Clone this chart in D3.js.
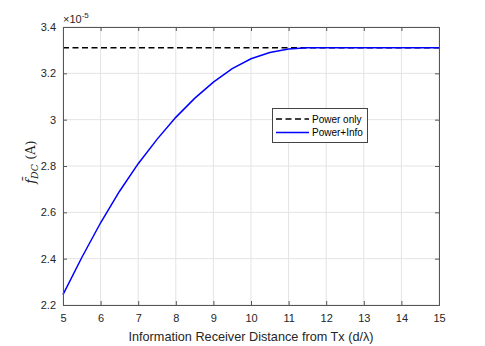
<!DOCTYPE html>
<html>
<head>
<meta charset="utf-8">
<script src="https://cdn.jsdelivr.net/npm/d3@7"></script>
<style>
  body { margin: 0; background: #fff; }
  .tick text { font-family: "Liberation Sans", Arial, sans-serif; font-size: 11px; fill: #262626; }
</style>
</head>
<body>
<div id="chart" style="width:485px;height:346px;"></div>
<script>
// distances (d/lambda)
const distance = [5, 5.5, 6, 6.5, 7, 7.5, 8, 8.5, 9, 9.5, 10, 10.5, 11, 11.5, 12, 12.5, 13, 13.5, 14, 14.5, 15];
// mean DC current x 1e-5 A
const powerInfo = [2.245, 2.405, 2.555, 2.69, 2.81, 2.915, 3.01, 3.092, 3.162, 3.22, 3.263, 3.29, 3.305, 3.31, 3.31, 3.31, 3.31, 3.31, 3.31, 3.31, 3.31];
const powerOnly = 3.31;
const xTicks = [5, 6, 7, 8, 9, 10, 11, 12, 13, 14, 15];
const yTicks = [2.2, 2.4, 2.6, 2.8, 3, 3.2, 3.4];

const width = 485, height = 346;
const margin = {top: 27, left: 63, right: 46, bottom: 41};

const svg = d3.select("#chart").append("svg")
    .attr("width", width)
    .attr("height", height);

const xScale = d3.scaleLinear().domain([5, 15]).range([margin.left, width - margin.right]);
const yScale = d3.scaleLinear().domain([2.2, 3.4]).range([height - margin.bottom, margin.top]);

// grid
svg.append("g").selectAll("line").data(xTicks).enter().append("line")
    .attr("x1", d => xScale(d)).attr("x2", d => xScale(d))
    .attr("y1", margin.top).attr("y2", height - margin.bottom)
    .style("stroke", "#e3e3e3").style("stroke-width", 1);
svg.append("g").selectAll("line").data(yTicks).enter().append("line")
    .attr("x1", margin.left).attr("x2", width - margin.right)
    .attr("y1", d => yScale(d)).attr("y2", d => yScale(d))
    .style("stroke", "#e3e3e3").style("stroke-width", 1);

// lines
svg.append("line")
    .attr("x1", xScale(5)).attr("x2", xScale(15))
    .attr("y1", yScale(powerOnly)).attr("y2", yScale(powerOnly))
    .style("stroke", "#000").style("stroke-width", 1.5).style("stroke-dasharray", "6,3.5");

const line = d3.line()
    .x((d, i) => xScale(distance[i]))
    .y(d => yScale(d));
svg.append("path")
    .datum(powerInfo)
    .attr("d", line)
    .style("fill", "none")
    .style("stroke", "#0000ff")
    .style("stroke-width", 1.5);

// axes
const axisColor = "#555";
const xAxis = svg.append("g")
    .attr("transform", `translate(0,${height - margin.bottom})`)
    .call(d3.axisBottom(xScale).tickValues(xTicks).tickSize(-4).tickPadding(9).tickFormat(d3.format("d")));
const yAxis = svg.append("g")
    .attr("transform", `translate(${margin.left},0)`)
    .call(d3.axisLeft(yScale).tickValues(yTicks).tickSize(-4).tickPadding(7).tickFormat(d => d === 3 ? "3" : d3.format(".1f")(d)));
const xTop = svg.append("g")
    .attr("transform", `translate(0,${margin.top})`)
    .call(d3.axisTop(xScale).tickValues(xTicks).tickSize(-4).tickFormat(""));
const yRight = svg.append("g")
    .attr("transform", `translate(${width - margin.right},0)`)
    .call(d3.axisRight(yScale).tickValues(yTicks).tickSize(-4).tickFormat(""));
[xAxis, yAxis, xTop, yRight].forEach(a => {
    a.selectAll(".domain").style("stroke", axisColor);
    a.selectAll(".tick line").style("stroke", axisColor);
});

// exponent
const ex = svg.append("text")
    .attr("x", margin.left).attr("y", 23)
    .style("font-family", "Liberation Sans, Arial, sans-serif").style("font-size", "11px").style("fill", "#262626");
ex.append("tspan").text("×10");
ex.append("tspan").attr("dy", -5).style("font-size", "8px").text("-5");

// x label
svg.append("text")
    .attr("x", xScale(10)).attr("y", 341)
    .attr("text-anchor", "middle")
    .style("font-family", "Liberation Sans, Arial, sans-serif").style("font-size", "12.7px").style("fill", "#262626")
    .text("Information Receiver Distance from Tx (d/λ)");

// y label
const yl = svg.append("text")
    .attr("transform", "translate(35,162) rotate(-90)")
    .attr("text-anchor", "middle")
    .style("font-family", "DejaVu Serif, Liberation Serif, serif").style("font-size", "13px").style("fill", "#262626");
yl.append("tspan").style("font-style", "italic").text("f\u0304");
yl.append("tspan").attr("dy", 3).style("font-style", "italic").style("font-size", "9.5px").text("DC");
yl.append("tspan").attr("dy", -3).text(" (A)");

// legend
const lg = svg.append("g");
lg.append("rect")
    .attr("x", 272.5).attr("y", 108.5).attr("width", 95).attr("height", 34)
    .style("fill", "#fff").style("stroke", "#444").style("stroke-width", 1);
const legendItems = [
    {label: "Power only", color: "#000", dash: "6,3.5", y: 119},
    {label: "Power+Info", color: "#0000ff", dash: null, y: 132.5}
];
legendItems.forEach(it => {
    lg.append("line")
        .attr("x1", 276).attr("x2", 309).attr("y1", it.y).attr("y2", it.y)
        .style("stroke", it.color).style("stroke-width", 1.5)
        .style("stroke-dasharray", it.dash);
    lg.append("text")
        .attr("x", 312).attr("y", it.y + 3.5)
        .style("font-family", "Liberation Sans, Arial, sans-serif").style("font-size", "10px").style("fill", "#000")
        .text(it.label);
});
</script>
</body>
</html>
